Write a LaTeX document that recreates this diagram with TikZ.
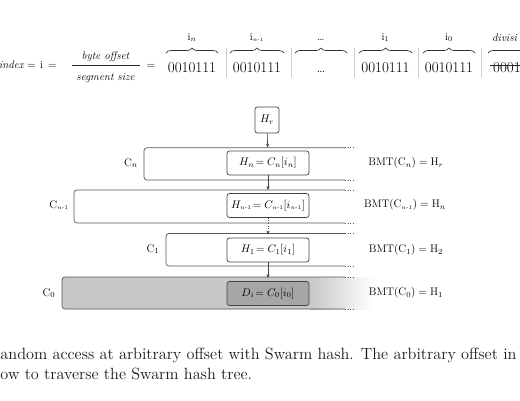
\RequirePackage{fix-cm}
\documentclass[tikz,border=0pt]{standalone}
\usepackage{amsmath}
\usepackage{graphicx}
\usepackage{fontspec}
\usetikzlibrary{arrows.meta,decorations.pathreplacing}
\definecolor{linec}{HTML}{555555}
\definecolor{boxc}{HTML}{444444}
\definecolor{sepc}{HTML}{D0D0D0}
\definecolor{czfill}{HTML}{C8C8C8}
\definecolor{dfill}{HTML}{A6A6A6}
\definecolor{txtc}{HTML}{1A1A1A}
\newcommand{\nmo}{{\scriptscriptstyle n\text{-}1}}
\begin{document}
\begin{tikzpicture}[x=1pt,y=-1pt,
  hbox/.style={draw=boxc, rounded corners=2.5pt, line width=0.7pt, minimum width=82pt, minimum height=24pt, inner sep=0pt, font=\fontsize{11}{13}\selectfont},
  cline/.style={draw=linec, line width=0.7pt},
  cdots/.style={draw=linec, line width=0.7pt, dotted},
  clabel/.style={font=\fontsize{11}{13}\selectfont, inner sep=0pt},
  bmt/.style={font=\fontsize{11}{13}\selectfont, inner sep=0pt},
  arr/.style={draw=boxc, line width=0.6pt, -{Stealth[length=4pt,width=3.2pt]}, shorten >=3pt},
  digits/.style={font=\fontsize{15}{17}\selectfont, inner sep=0pt, anchor=base},
  brlab/.style={font=\fontsize{10.5}{12}\selectfont, inner sep=0pt, anchor=base},
  brc/.style={draw=black!80, line width=0.7pt, decorate, decoration={brace, amplitude=5pt}},
  sep/.style={draw=sepc, line width=0.8pt},
  form/.style={font=\fontsize{11}{13}\selectfont, inner sep=0pt, anchor=base},
  captxt/.style={inner sep=0pt, outer sep=0pt, text=txtc}
]
\useasboundingbox (0,0) rectangle (520,400);
\clip (0,0) rectangle (520,400);

% ---------- top formula ----------
\node[form, anchor=base east] (idx) at (24,68) {$\mathit{index}$};
\node[form] (eq1) at (31.5,68) {$=$};
\node[form] (ii) at (41.5,68) {$\mathrm{i}$};
\node[form] (eq2) at (52.5,68) {$=$};
\node[form] (num) at (105.5,59) {\itshape byte offset};
\node[form] (den) at (105.5,80) {\itshape segment size};
\draw[black!85, line width=0.6pt] (72,65.7) -- (140,65.7);
\node[form] (eq3) at (151,68) {$=$};

\node[digits] (d1) at (192,72) {0010111};
\node[digits] (d2) at (257,72) {0010111};
\node[digits] (d3) at (321,72) {\dots};
\node[digits] (d4) at (385.5,72) {0010111};
\node[digits] (d5) at (449,72) {0010111};
\node[digits, anchor=base west] (d6) at (493,72) {0001};
\draw[black!85, line width=0.7pt] (490,65) -- (522,65);

\draw[brc] (166,53) -- (218,53);
\draw[brc] (230,53) -- (284,53);
\draw[brc] (295,53) -- (347,53);
\draw[brc] (359,53) -- (412,53);
\draw[brc] (423,53) -- (475,53);
\draw[brc] (488,53) -- (560,53);

\node[brlab] (l1) at (192,40) {$\mathrm{i}_n$};
\node[brlab] (l2) at (257,40) {$\mathrm{i}_\nmo$};
\node[brlab] (l3) at (321,40) {\dots};
\node[brlab] (l4) at (385.5,40) {$\mathrm{i}_1$};
\node[brlab] (l5) at (449,40) {$\mathrm{i}_0$};
\node[brlab, anchor=base west, font=\fontsize{11}{13}\selectfont\itshape] (l6) at (492,41) {divisi};

\draw[sep] (226.7,48) -- (226.7,78);
\draw[sep] (291.7,48) -- (291.7,78);
\draw[sep] (354.3,48) -- (354.3,78);
\draw[sep] (418.3,48) -- (418.3,78);
\draw[sep] (481.7,48) -- (481.7,78);

% ---------- C0 background ----------
\fill[czfill, rounded corners=3pt] (62,277) rectangle (330,309);
\shade[left color=czfill, right color=white] (310,277) rectangle (374,309);

% ---------- C boxes ----------
\draw[cline, rounded corners=3pt] (345,147.7) -- (144,147.7) -- (144,180) -- (345,180);
\draw[cdots] (345,147.7) -- (354,147.7);
\draw[cdots] (345,180) -- (354,180);

\draw[cline, rounded corners=3pt] (345,190) -- (74,190) -- (74,223) -- (345,223);
\draw[cdots] (345,190) -- (354,190);
\draw[cdots] (345,223) -- (354,223);

\draw[cline, rounded corners=3pt] (345,233.5) -- (166,233.5) -- (166,266) -- (345,266);
\draw[cdots] (345,233.5) -- (354,233.5);
\draw[cdots] (345,266) -- (354,266);

\draw[cline, rounded corners=3pt] (345,277) -- (62,277) -- (62,309) -- (345,309);
\draw[cdots] (345,277) -- (354,277);
\draw[cdots] (345,309) -- (354,309);

% ---------- hash boxes ----------
\node[hbox, minimum width=24pt, minimum height=26pt] (hr) at (267,120) {$H_r$};
\node[hbox, fill=white] (hn) at (268,163) {$H_n\!= C_n[i_n]$};
\node[hbox, fill=white] (hn1) at (268,205.5) {$H_\nmo\!= C_\nmo[i_\nmo]$};
\node[hbox, fill=white] (h1) at (268,250) {$H_1\!= C_1[i_1]$};
\node[hbox, fill=dfill] (di) at (268,293.5) {$D_i\!= C_0[i_0]$};

\draw[arr] (hr) -- (hn);
\draw[arr] (hn) -- (hn1);
\draw[arr, dotted] (hn1) -- (h1);
\draw[arr] (h1) -- (di);

% ---------- C labels ----------
\node[clabel] (cn) at (131,163) {$\mathrm{C}_n$};
\node[clabel] (cn1) at (59,205) {$\mathrm{C}_\nmo$};
\node[clabel] (c1) at (153,249) {$\mathrm{C}_1$};
\node[clabel] (c0) at (49,293) {$\mathrm{C}_0$};

% ---------- BMT labels ----------
\node[bmt] (b1) at (406,163) {$\mathrm{BMT}(\mathrm{C}_n) = \mathrm{H}_r$};
\node[bmt] (b2) at (405,205) {$\mathrm{BMT}(\mathrm{C}_\nmo) = \mathrm{H}_n$};
\node[bmt] (b3) at (406,250) {$\mathrm{BMT}(\mathrm{C}_1) = \mathrm{H}_2$};
\node[bmt] (b4) at (406,293) {$\mathrm{BMT}(\mathrm{C}_0) = \mathrm{H}_1$};

% ---------- caption ----------
\node[captxt, anchor=base west] (cap) at (0.5,359) {\resizebox{516pt}{!}{\fontsize{14}{17.5}\selectfont\begin{tabular}[t]{@{}l@{}}andom access at arbitrary offset with Swarm hash. The arbitrary offset in\\ ow to traverse the Swarm hash tree.\end{tabular}}};
\end{tikzpicture}
\end{document}
